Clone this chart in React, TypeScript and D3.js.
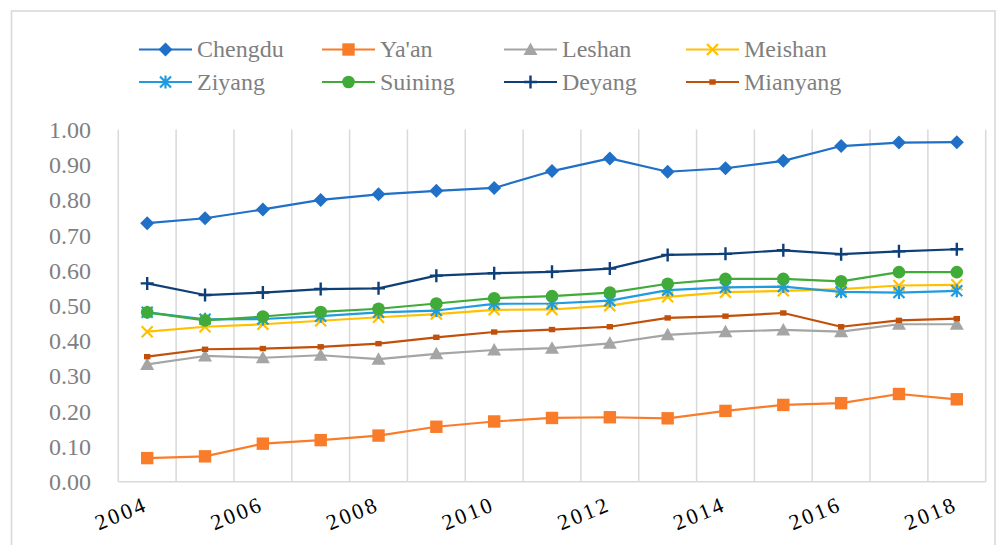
import React from "react";
import * as d3 from "d3";

const years = [2004, 2005, 2006, 2007, 2008, 2009, 2010, 2011, 2012, 2013, 2014, 2015, 2016, 2017, 2018];
const yearLabels = ["2004", "2006", "2008", "2010", "2012", "2014", "2016", "2018"];
const yTicks = [0, 0.1, 0.2, 0.3, 0.4, 0.5, 0.6, 0.7, 0.8, 0.9, 1.0];

const seriesNames = ["Chengdu", "Ya'an", "Leshan", "Meishan", "Ziyang", "Suining", "Deyang", "Mianyang"];

const chengdu = [0.734, 0.748, 0.773, 0.800, 0.816, 0.826, 0.834, 0.882, 0.918, 0.880, 0.890, 0.911, 0.953, 0.963, 0.964];
const yaan = [0.067, 0.072, 0.108, 0.118, 0.131, 0.156, 0.171, 0.181, 0.183, 0.180, 0.201, 0.218, 0.223, 0.249, 0.234];
const leshan = [0.333, 0.357, 0.352, 0.359, 0.348, 0.363, 0.374, 0.379, 0.393, 0.417, 0.426, 0.431, 0.426, 0.447, 0.447];
const meishan = [0.426, 0.440, 0.447, 0.457, 0.467, 0.476, 0.488, 0.489, 0.500, 0.525, 0.538, 0.542, 0.547, 0.557, 0.559];
const ziyang = [0.481, 0.461, 0.462, 0.470, 0.481, 0.486, 0.505, 0.506, 0.514, 0.544, 0.552, 0.554, 0.539, 0.537, 0.542];
const suining = [0.481, 0.458, 0.469, 0.482, 0.491, 0.506, 0.521, 0.527, 0.537, 0.562, 0.576, 0.576, 0.569, 0.595, 0.595];
const deyang = [0.563, 0.530, 0.537, 0.547, 0.549, 0.585, 0.592, 0.596, 0.605, 0.644, 0.647, 0.657, 0.646, 0.654, 0.660];
const mianyang = [0.355, 0.376, 0.378, 0.383, 0.392, 0.410, 0.425, 0.432, 0.440, 0.465, 0.470, 0.479, 0.440, 0.458, 0.463];

const seriesValues = [chengdu, yaan, leshan, meishan, ziyang, suining, deyang, mianyang];
const colors = ["#1f70c6", "#f97c2a", "#a5a5a5", "#ffc000", "#1f9be0", "#41ab3a", "#0f3f78", "#c0500a"];
const markers = ["diamond", "square", "triangle", "x", "asterisk", "circle", "plus", "smallsquare"];

const W = 997;
const H = 545;
const plot = { left: 118.3, right: 985.7, top: 129.5, bottom: 481.7 };
const FONT = "'Liberation Serif', 'Times New Roman', Times, serif";

function Marker({ type, x, y, color }: { type: string; x: number; y: number; color: string }) {
  switch (type) {
    case "diamond":
      return <path d={`M${x},${y - 7}L${x + 7},${y}L${x},${y + 7}L${x - 7},${y}Z`} fill={color} />;
    case "square":
      return <rect x={x - 6.2} y={y - 6.2} width={12.4} height={12.4} fill={color} />;
    case "triangle":
      return <path d={`M${x},${y - 7}L${x + 7},${y + 5.5}L${x - 7},${y + 5.5}Z`} fill={color} />;
    case "x":
      return (
        <path d={`M${x - 5.5},${y - 5.5}L${x + 5.5},${y + 5.5}M${x + 5.5},${y - 5.5}L${x - 5.5},${y + 5.5}`} stroke={color} strokeWidth={2.2} fill="none" />
      );
    case "asterisk":
      return (
        <path
          d={`M${x - 5.5},${y - 5.5}L${x + 5.5},${y + 5.5}M${x + 5.5},${y - 5.5}L${x - 5.5},${y + 5.5}M${x},${y - 6.5}L${x},${y + 6.5}`}
          stroke={color}
          strokeWidth={2.2}
          fill="none"
        />
      );
    case "circle":
      return <circle cx={x} cy={y} r={6.3} fill={color} />;
    case "plus":
      return <path d={`M${x - 6.5},${y}L${x + 6.5},${y}M${x},${y - 6.5}L${x},${y + 6.5}`} stroke={color} strokeWidth={2.4} fill="none" />;
    case "smallsquare":
      return <rect x={x - 3.2} y={y - 2.7} width={6.4} height={5.4} fill={color} />;
    default:
      return null;
  }
}

export default function App() {
  const x = d3.scaleBand<number>().domain(years).range([plot.left, plot.right]).paddingInner(0).paddingOuter(0);
  const y = d3.scaleLinear().domain([0, 1]).range([plot.bottom, plot.top]);
  const cx = (yr: number) => (x(yr) as number) + x.bandwidth() / 2;

  const line = d3
    .line<number>()
    .x((_, i) => cx(years[i]))
    .y((v) => y(v));

  const gridXs = years.map((yr) => x(yr) as number).concat([plot.right]);

  const legendColX = [139, 322, 504, 686];
  const legendRowY = [49.5, 82];

  return (
    <svg
      width={W}
      height={H}
      style={{ position: "absolute", left: 0, top: 0, background: "#fff", fontFamily: FONT }}
    >
      <rect x={0} y={0} width={W} height={H} fill="#fff" />
      <rect x={11.5} y={11} width={983.5} height={H + 10} fill="none" stroke="#d9d9d9" strokeWidth={1.6} />

      {gridXs.map((gx, i) => (
        <line key={"g" + i} x1={gx} x2={gx} y1={plot.top} y2={plot.bottom} stroke="#d9d9d9" strokeWidth={1.5} />
      ))}
      <line x1={plot.left} x2={plot.right} y1={plot.bottom} y2={plot.bottom} stroke="#d9d9d9" strokeWidth={1.5} />

      {yTicks.map((t) => (
        <text key={"yt" + t} x={91} y={y(t)} dy="0.35em" textAnchor="end" fontSize={24} fill="#7f7f7f" style={{ fontFamily: FONT }}>
          {t.toFixed(2)}
        </text>
      ))}

      {yearLabels.map((lab) => {
        const px = cx(+lab) + 2;
        const py = 510;
        return (
          <text
            key={"xl" + lab}
            x={px}
            y={py}
            textAnchor="end"
            fontSize={22}
            letterSpacing={2.6}
            fill="#000"
            style={{ fontFamily: FONT }}
            transform={`rotate(-22 ${px} ${py})`}
          >
            {lab}
          </text>
        );
      })}

      {seriesValues.map((vals, si) => (
        <g key={"s" + si}>
          <path d={line(vals) || ""} fill="none" stroke={colors[si]} strokeWidth={2.2} strokeLinejoin="round" />
          {vals.map((v, i) => (
            <Marker key={i} type={markers[si]} x={cx(years[i])} y={y(v)} color={colors[si]} />
          ))}
        </g>
      ))}

      {seriesNames.map((name, si) => {
        const lx = legendColX[si % 4];
        const ly = legendRowY[Math.floor(si / 4)];
        return (
          <g key={"lg" + si}>
            <line x1={lx} x2={lx + 53} y1={ly} y2={ly} stroke={colors[si]} strokeWidth={2.2} />
            <Marker type={markers[si]} x={lx + 26.5} y={ly} color={colors[si]} />
            <text x={lx + 58} y={ly} dy="0.33em" fontSize={24} fill="#7f7f7f" style={{ fontFamily: FONT }}>
              {name}
            </text>
          </g>
        );
      })}
    </svg>
  );
}
